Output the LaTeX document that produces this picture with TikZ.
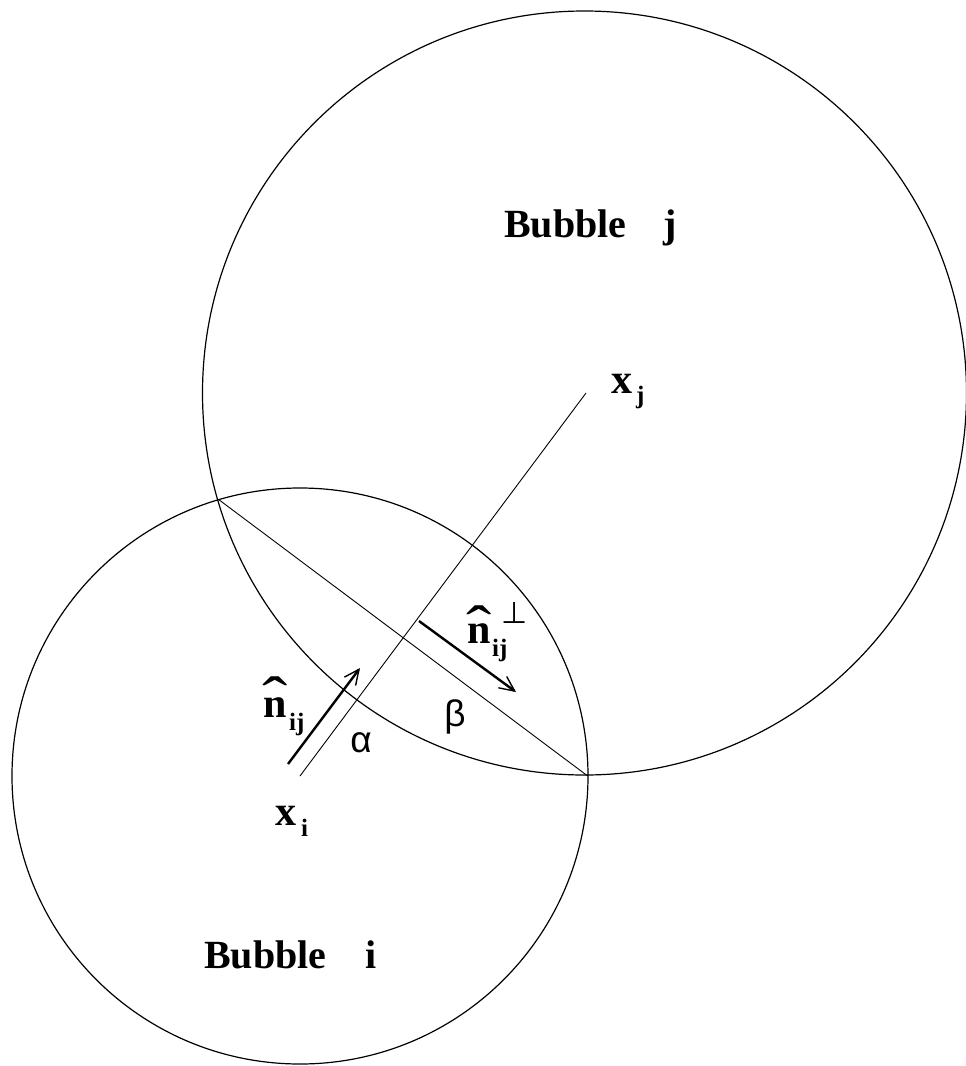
\documentclass[tikz,border=0pt]{standalone}
\usepackage{fontspec}
\setmainfont{Liberation Serif}
\newfontfamily\greekfont{Liberation Sans}
\newfontfamily\symbfont{DejaVu Sans}
\usetikzlibrary{arrows.meta}
\begin{document}
\begin{tikzpicture}[x=1pt,y=-1pt,
  thinline/.style={line width=0.9pt},
  bubble/.style={line width=1.2pt},
  vecarrow/.style={line width=2.4pt,-{Straight Barb[length=15pt,width=14pt,line width=1.4pt]}},
  bigbold/.style={font=\fontsize{40}{48}\selectfont\bfseries, inner sep=0pt, anchor=base west},
  vecbold/.style={font=\fontsize{42}{48}\selectfont\bfseries, inner sep=0pt, anchor=base west},
  subbold/.style={font=\fontsize{25}{30}\selectfont\bfseries, inner sep=0pt, anchor=base west},
  hatmark/.style={font=\fontsize{40}{48}\selectfont, inner sep=0pt, anchor=north},
  greek/.style={font=\greekfont\fontsize{37}{42}\selectfont, inner sep=0pt},
  symb/.style={font=\symbfont\fontsize{30}{36}\selectfont, inner sep=0pt}
]
\useasboundingbox (0,0) rectangle (966,1066);
% centres and intersection points
\coordinate (xi) at (300,776);
\coordinate (xj) at (584.5,393);
\coordinate (xjend) at (586,393);
\coordinate (p1) at (219.3,500);
\coordinate (p2) at (587.7,776);
% bubbles
\draw[bubble] (xi) circle[radius=288];
\draw[bubble] (xj) circle[radius=382];
% centre line and chord
\draw[thinline] (xi) -- (xjend);
\draw[thinline] (p1) -- (p2);
% unit vectors
\coordinate (na) at (288,764);
\coordinate (nb) at (360,668);
\coordinate (pa) at (419,621);
\coordinate (pb) at (516,692);
\draw[vecarrow] (na) -- (nb);
\draw[vecarrow] (pa) -- (pb);
% labels
\node[bigbold] (bj) at (504,237) {Bubble\hspace{37pt}j};
\node[bigbold] (bi) at (204,968) {Bubble\hspace{39pt}i};
\node[vecbold] (xjl) at (611,393) {x};
\node[subbold] (xjs) at (636,403) {j};
\node[vecbold] (xil) at (275,825) {x};
\node[subbold] (xis) at (301,836) {i};
\node[vecbold] (nl) at (263,717) {n};
\node[hatmark] (nh) at (275.5,677) {\scalebox{1.9}[1.5]{ˆ}};
\node[subbold] (nls) at (289,730) {ij};
\node[vecbold] (pl) at (467,643) {n};
\node[hatmark] (ph) at (479.5,606) {\scalebox{1.9}[1.5]{ˆ}};
\node[subbold] (pls) at (492,656) {ij};
\node[symb] (perp) at (515,613) {⊥};
\node[greek] (al) at (361,743) {α};
\node[greek] (be) at (455,717) {β};
\end{tikzpicture}
\end{document}
